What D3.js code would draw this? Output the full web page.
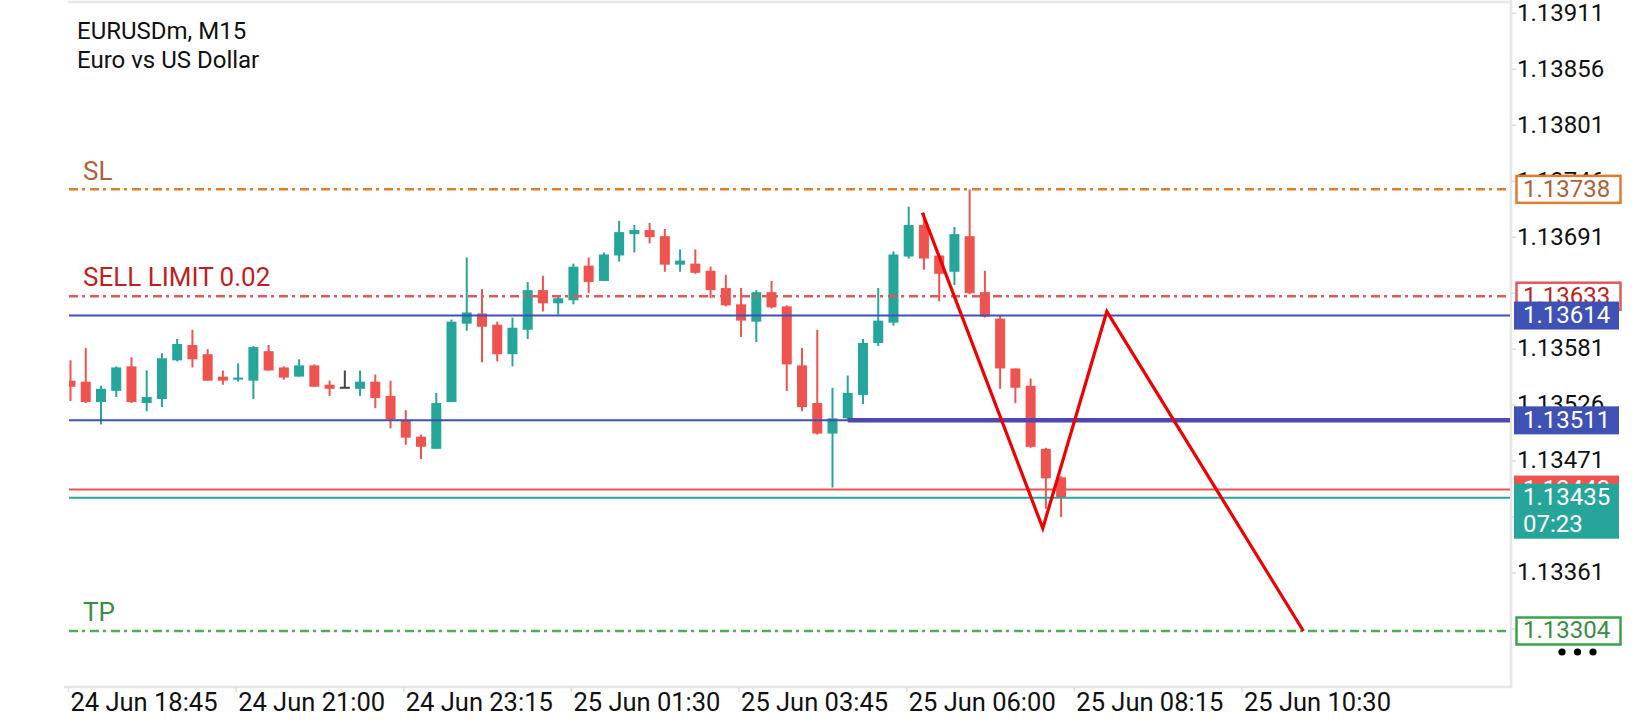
<!DOCTYPE html>
<html>
<head>
<meta charset="utf-8">
<script src="https://cdn.jsdelivr.net/npm/d3@7"></script>
<style>
  html, body { margin: 0; padding: 0; background: #fff; }
  svg { display: block; font-family: Roboto, "Noto Sans", sans-serif; }
</style>
</head>
<body>
<svg id="chart" width="1640" height="720"></svg>
<script>
// EURUSDm M15 candles
var opens  = [1.13550,1.13549,1.13529,1.13540,1.13564,1.13528,1.13532,1.13570,1.13585,1.13576,
              1.13554,1.13551,1.13550,1.13579,1.13563,1.13554,1.13565,1.13546,1.13544,1.13542,
              1.13549,1.13535,1.13511,1.13495,1.13483,1.13529,1.13606,1.13616,1.13605,1.13576,
              1.13600,1.13639,1.13626,1.13629,1.13663,1.13648,1.13673,1.13694,1.13698,1.13692,
              1.13664,1.13665,1.13658,1.13641,1.13625,1.13608,1.13637,1.13623,1.13565,1.13528,
              1.13498,1.13513,1.13536,1.13587,1.13607,1.13672,1.13703,1.13673,1.13657,1.13692,
              1.13637,1.13611,1.13562,1.13545,1.13483,1.13455];
var highs  = [1.13570,1.13582,1.13545,1.13564,1.13573,1.13560,1.13577,1.13591,1.13600,1.13581,
              1.13560,1.13567,1.13584,1.13585,1.13564,1.13571,1.13566,1.13550,1.13560,1.13560,
              1.13556,1.13550,1.13521,1.13497,1.13538,1.13610,1.13671,1.13640,1.13608,1.13612,
              1.13647,1.13653,1.13634,1.13665,1.13671,1.13676,1.13707,1.13703,1.13705,1.13699,
              1.13679,1.13679,1.13662,1.13654,1.13641,1.13639,1.13648,1.13624,1.13582,1.13600,
              1.13543,1.13555,1.13591,1.13641,1.13677,1.13721,1.13715,1.13674,1.13701,1.13738,
              1.13658,1.13614,1.13562,1.13552,1.13484,1.13456];
var lows   = [1.13530,1.13528,1.13507,1.13534,1.13528,1.13520,1.13524,1.13569,1.13563,1.13550,
              1.13546,1.13549,1.13532,1.13560,1.13551,1.13554,1.13544,1.13535,1.13543,1.13535,
              1.13523,1.13503,1.13487,1.13473,1.13483,1.13529,1.13599,1.13568,1.13569,1.13564,
              1.13591,1.13618,1.13615,1.13625,1.13636,1.13648,1.13667,1.13676,1.13685,1.13657,
              1.13657,1.13655,1.13631,1.13623,1.13593,1.13588,1.13621,1.13540,1.13520,1.13497,
              1.13445,1.13512,1.13527,1.13584,1.13604,1.13670,1.13659,1.13628,1.13644,1.13635,
              1.13612,1.13542,1.13528,1.13484,1.13424,1.13416];
var closes = [1.13544,1.13529,1.13542,1.13563,1.13529,1.13534,1.13572,1.13586,1.13571,1.13550,
              1.13550,1.13553,1.13583,1.13560,1.13553,1.13565,1.13544,1.13542,1.13544,1.13549,
              1.13533,1.13512,1.13494,1.13485,1.13528,1.13608,1.13617,1.13603,1.13576,1.13602,
              1.13639,1.13626,1.13631,1.13662,1.13647,1.13674,1.13696,1.13698,1.13691,1.13664,
              1.13668,1.13656,1.13639,1.13624,1.13609,1.13637,1.13622,1.13566,1.13524,1.13498,
              1.13513,1.13538,1.13587,1.13609,1.13674,1.13703,1.13670,1.13655,1.13694,1.13636,
              1.13613,1.13562,1.13543,1.13485,1.13454,1.13435];

var timeTickBars   = [0, 11, 22, 33, 44, 55, 66, 77];
var timeTickLabels = ["24 Jun 18:45", "24 Jun 21:00", "24 Jun 23:15", "25 Jun 01:30",
                      "25 Jun 03:45", "25 Jun 06:00", "25 Jun 08:15", "25 Jun 10:30"];
var priceTicks = [1.13911, 1.13856, 1.13801, 1.13746, 1.13691, 1.13636,
                  1.13581, 1.13526, 1.13471, 1.13416, 1.13361, 1.13306];

var slPrice = 1.13738, sellLimitPrice = 1.13633, tpPrice = 1.13304;
var levelPrices = [1.13614, 1.13511];
var trendFromBar = 51, trendPrice = 1.13511;
var askPrice = 1.13443, bidPrice = 1.13435, barTimeLeft = "07:23";
var zigzagBars   = [55.9, 63.8, 68, 80.9];
var zigzagPrices = [1.13715, 1.13405, 1.13618, 1.13304];

var UP = "#26a69a", DOWN = "#ef5350", DOJI = "#454545";
var BLUE = "#3f51b5";
var PLOT_L = 69, PLOT_R = 1510, PLOT_T = 2, PLOT_B = 687;

var svg = d3.select("#chart");
var x = d3.scaleLinear().domain([0, 90]).range([70.5, 70.5 + 90 * 15.24]);
var y = d3.scaleLinear().domain([1.13911, 1.13304]).range([13.3, 631]);
var fmt = d3.format(".5f");

svg.append("clipPath").attr("id", "plotClip").append("rect")
    .attr("x", PLOT_L).attr("y", PLOT_T).attr("width", PLOT_R - PLOT_L).attr("height", PLOT_B - PLOT_T);

// frame
svg.append("line").attr("x1", 68).attr("x2", PLOT_R).attr("y1", 2).attr("y2", 2)
    .attr("stroke", "#e6e6e6").attr("stroke-width", 2.5);
svg.append("line").attr("x1", PLOT_R + 1).attr("x2", PLOT_R + 1).attr("y1", 0).attr("y2", PLOT_B + 1)
    .attr("stroke", "#e6e6e6").attr("stroke-width", 2.5);
svg.append("line").attr("x1", 64).attr("x2", PLOT_R + 2).attr("y1", PLOT_B).attr("y2", PLOT_B)
    .attr("stroke", "#e6e6e6").attr("stroke-width", 2.5);

// title
svg.append("text").attr("x", 77).attr("y", 33).attr("dominant-baseline", "middle")
    .attr("font-size", 24).attr("fill", "#111").text("EURUSDm, M15");
svg.append("text").attr("x", 77).attr("y", 62).attr("dominant-baseline", "middle")
    .attr("font-size", 24).attr("fill", "#111").text("Euro vs US Dollar");

// price axis
var yTicks = svg.append("g");
yTicks.selectAll("line").data(priceTicks).enter().append("line")
    .attr("x1", PLOT_R + 2).attr("x2", PLOT_R + 6)
    .attr("y1", function (d) { return y(d); }).attr("y2", function (d) { return y(d); })
    .attr("stroke", "#dcdcdc").attr("stroke-width", 1.5);
yTicks.selectAll("text").data(priceTicks).enter().append("text")
    .attr("x", 1517).attr("y", function (d) { return y(d) + 1; })
    .attr("dominant-baseline", "middle").attr("font-size", 24).attr("fill", "#111")
    .text(function (d) { return fmt(d); });

// time axis
var xTicks = svg.append("g");
xTicks.selectAll("line").data(timeTickBars).enter().append("line")
    .attr("x1", function (d) { return x(d) - 2; }).attr("x2", function (d) { return x(d) - 2; })
    .attr("y1", PLOT_B).attr("y2", PLOT_B + 5)
    .attr("stroke", "#dcdcdc").attr("stroke-width", 1.5);
xTicks.selectAll("text").data(timeTickBars).enter().append("text")
    .attr("x", function (d) { return x(d); }).attr("y", 704)
    .attr("dominant-baseline", "middle").attr("font-size", 25.5).attr("fill", "#111")
    .text(function (d, i) { return timeTickLabels[i]; });

var plot = svg.append("g").attr("clip-path", "url(#plotClip)");

// candles
var candles = d3.range(opens.length).map(function (i) {
    return {i: i, o: opens[i], h: highs[i], l: lows[i], c: closes[i]};
});
function candleColor(d) {
    if (d.o === d.c) return DOJI;
    return d.c > d.o ? UP : DOWN;
}
var cg = plot.append("g").selectAll("g").data(candles).enter().append("g");
cg.append("line")
    .attr("x1", function (d) { return x(d.i); }).attr("x2", function (d) { return x(d.i); })
    .attr("y1", function (d) { return y(d.h); }).attr("y2", function (d) { return y(d.l); })
    .attr("stroke", candleColor).attr("stroke-width", 2);
cg.append("rect")
    .attr("x", function (d) { return x(d.i) - 5; }).attr("width", 10)
    .attr("y", function (d) { return y(Math.max(d.o, d.c)); })
    .attr("height", function (d) { return Math.max(2, Math.abs(y(d.o) - y(d.c))); })
    .attr("fill", candleColor);

// horizontal levels
function hline(p, color, w, dash) {
    var l = plot.append("line").attr("x1", PLOT_L).attr("x2", PLOT_R)
        .attr("y1", y(p)).attr("y2", y(p)).attr("stroke", color).attr("stroke-width", w);
    if (dash) l.attr("stroke-dasharray", dash);
    return l;
}
hline(slPrice, "#e17c2f", 2.5, "9,4,3,5");
hline(sellLimitPrice, "#e05a5a", 2.5, "9,4,3,5");
hline(tpPrice, "#4caf50", 2.5, "9,4,3,5");
levelPrices.forEach(function (p) { hline(p, BLUE, 2); });
hline(askPrice, DOWN, 2);
hline(bidPrice, UP, 2);

plot.append("line").attr("x1", x(trendFromBar)).attr("x2", PLOT_R)
    .attr("y1", y(trendPrice)).attr("y2", y(trendPrice))
    .attr("stroke", "#5046b0").attr("stroke-width", 4.5);

// zigzag
var zz = zigzagBars.map(function (b, i) { return [b, zigzagPrices[i]]; });
plot.append("path").datum(zz)
    .attr("d", d3.line().x(function (d) { return x(d[0]); }).y(function (d) { return y(d[1]); }))
    .attr("fill", "none").attr("stroke", "#f00000").attr("stroke-width", 3.2)
    .attr("stroke-linejoin", "miter");

// order labels
svg.append("text").attr("x", 83).attr("y", y(slPrice) - 16).attr("dominant-baseline", "middle")
    .attr("font-size", 26).attr("fill", "#ad6239").text("SL");
svg.append("text").attr("x", 83).attr("y", y(sellLimitPrice) - 17).attr("dominant-baseline", "middle")
    .attr("font-size", 26).attr("fill", "#bf1f24").text("SELL LIMIT 0.02");
svg.append("text").attr("x", 83).attr("y", y(tpPrice) - 17).attr("dominant-baseline", "middle")
    .attr("font-size", 26).attr("fill", "#3b8c44").text("TP");

// price tags on the right
function outlineTag(p, stroke, textColor) {
    svg.append("rect").attr("x", 1516.5).attr("y", y(p) - 13.5).attr("width", 104).attr("height", 27)
        .attr("fill", "#fff").attr("stroke", stroke).attr("stroke-width", 2.5);
    svg.append("text").attr("x", 1523).attr("y", y(p) + 1).attr("dominant-baseline", "middle")
        .attr("font-size", 24).attr("fill", textColor).text(fmt(p));
}
function fillTag(p, fill, h, extra) {
    svg.append("rect").attr("x", 1514).attr("y", y(p) - 14).attr("width", 105).attr("height", h)
        .attr("fill", fill);
    svg.append("text").attr("x", 1523).attr("y", y(p) + 1).attr("dominant-baseline", "middle")
        .attr("font-size", 24).attr("fill", "#fff").text(fmt(p));
    if (extra) {
        svg.append("text").attr("x", 1523).attr("y", y(p) + 28).attr("dominant-baseline", "middle")
            .attr("font-size", 24).attr("fill", "#fff").text(extra);
    }
}
outlineTag(slPrice, "#e17c2f", "#ad6239");
outlineTag(sellLimitPrice, "#e05a5a", "#bf1f24");
levelPrices.forEach(function (p) { fillTag(p, BLUE, 28); });
fillTag(askPrice, DOWN, 28);
fillTag(bidPrice, UP, 55, barTimeLeft);
outlineTag(tpPrice, "#3aa34a", "#3b8c44");

// menu dots
svg.append("g").selectAll("circle").data([0, 1, 2]).enter().append("circle")
    .attr("cx", function (d) { return 1562 + d * 15.5; }).attr("cy", 652).attr("r", 3.6)
    .attr("fill", "#000");
</script>
</body>
</html>
